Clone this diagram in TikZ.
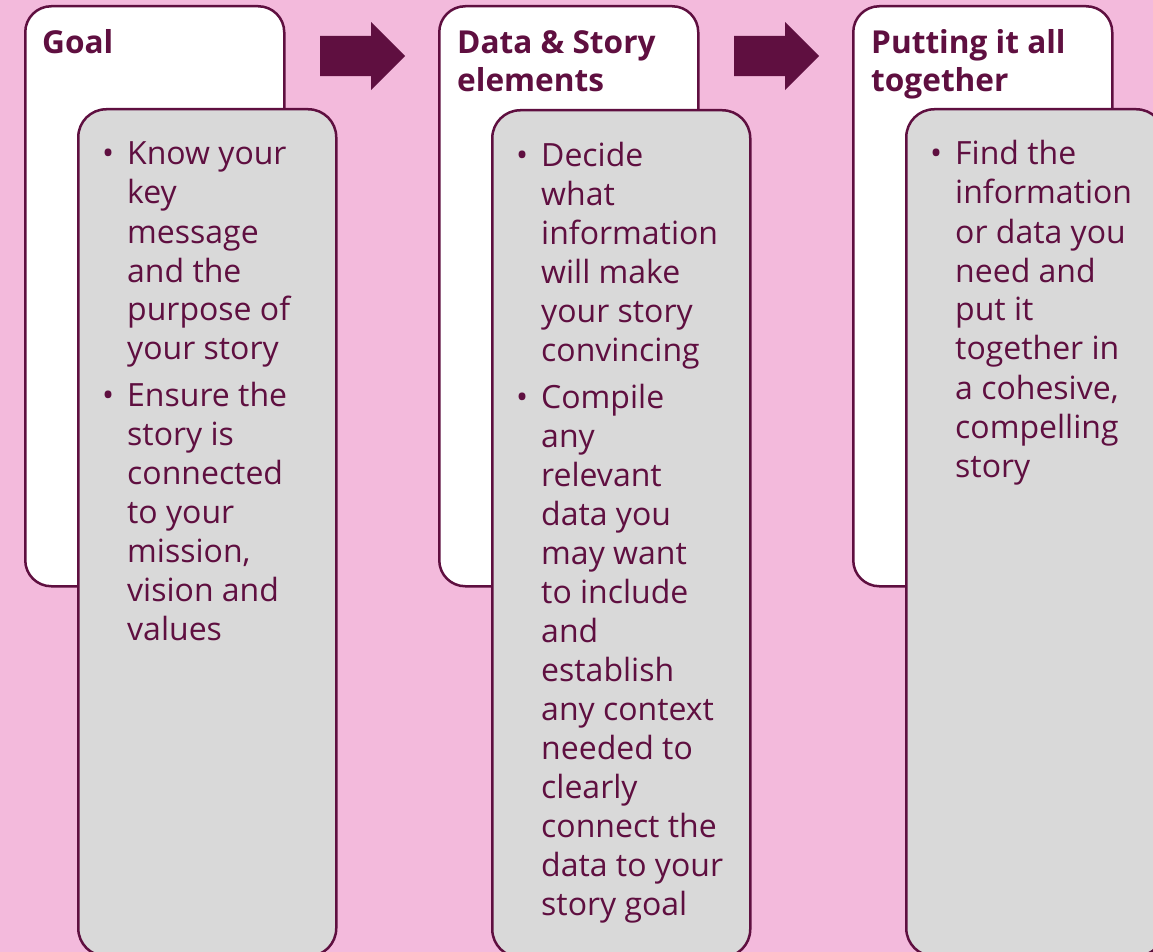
\documentclass[tikz,border=0pt]{standalone}
\usepackage{fontspec}
\setmainfont{Open Sans}
\usetikzlibrary{shapes.arrows}
\definecolor{bgpink}{HTML}{F3BADC}
\definecolor{maroon}{HTML}{5F0F40}
\definecolor{boxgray}{HTML}{D9D9D9}
\newcommand{\bul}{\llap{•\hspace{13pt}}}
\newcommand{\stack}[1]{\begin{tabular}[t]{@{}l@{}}#1\end{tabular}}
\begin{document}
\begin{tikzpicture}[x=1pt,y=-1pt,
 card/.style={draw=maroon, line width=2.5pt, rounded corners=26pt, fill=white, minimum width=259pt, minimum height=580pt, anchor=north west, inner sep=0pt},
 panel/.style={draw=maroon, line width=2.5pt, rounded corners=28pt, fill=boxgray, minimum width=258pt, minimum height=847pt, anchor=north west, inner sep=0pt},
 title/.style={anchor=base west, inner sep=0pt, text=maroon, font=\fontsize{31.6}{38}\selectfont\bfseries},
 body/.style={anchor=base west, inner sep=0pt, text=maroon, font=\fontsize{32}{39}\selectfont},
 flow/.style={single arrow, fill=maroon, draw=none, single arrow head extend=14pt, inner xsep=0pt, inner ysep=20pt, minimum height=85pt, minimum width=68pt, anchor=tail}
]
\useasboundingbox (0,0) rectangle (1153,952);
\clip (0,0) rectangle (1153,952);
\fill[bgpink] (0,0) rectangle (1153,952);

% white cards
\node[card] (w1) at (24,5) {};
\node[card] (w2) at (438,5) {};
\node[card] (w3) at (852,5) {};

% arrows
\node[flow] (a1) at (320,56) {};
\node[flow] (a2) at (734,56) {};

% gray panels
\node[panel] (g1) at (77,108) {};
\node[panel] (g2) at (491,109) {};
\node[panel] (g3) at (905,108) {};

% titles
\node[title] (t1) at (42,54) {\stack{Goal}};
\node[title] (t2) at (457,54) {\stack{Data \& Story\\elements}};
\node[title] (t3) at (871,54) {\stack{Putting it all\\together}};

% bodies
\node[body] (b1) at (127,165) {\stack{\bul Know your\\key\\message\\and the\\purpose of\\your story\\[7.5pt]\bul Ensure the\\story is\\connected\\to your\\mission,\\vision and\\values}};
\node[body] (b2) at (541,167) {\stack{\bul Decide\\what\\information\\will make\\your story\\convincing\\[7.5pt]\bul Compile\\any\\relevant\\data you\\may want\\to include\\and\\establish\\any context\\needed to\\clearly\\connect the\\data to your\\story goal}};
\node[body] (b3) at (955,165) {\stack{\bul Find the\\information\\or data you\\need and\\put it\\together in\\a cohesive,\\compelling\\story}};
\end{tikzpicture}
\end{document}
